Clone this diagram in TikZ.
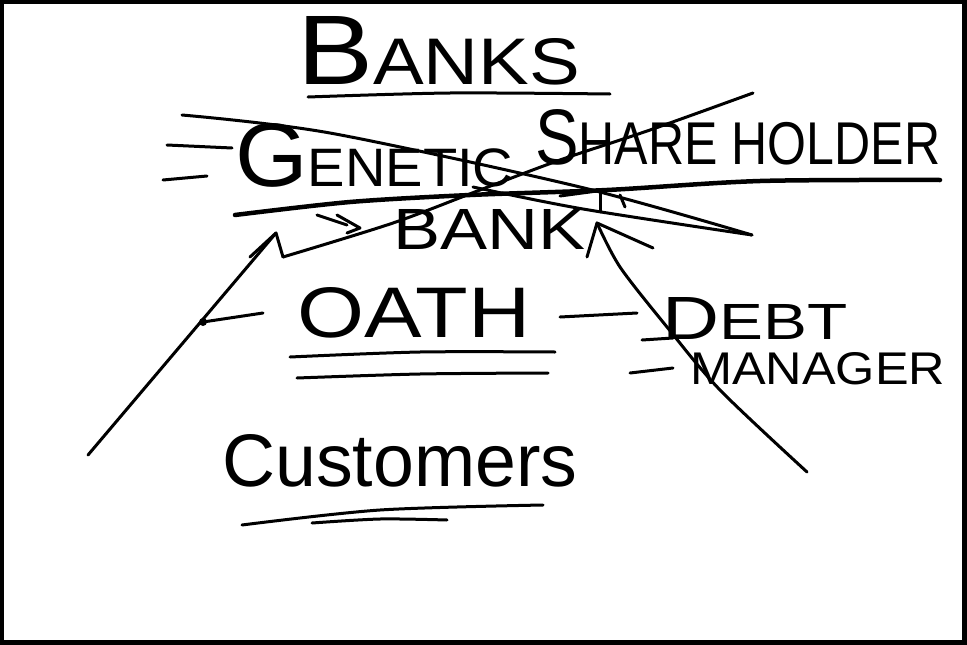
\documentclass[tikz,border=0pt]{standalone}
\usepackage{fontspec}
\usepackage{graphicx}
\setmainfont{Liberation Sans}
% a word stretched to a given width and height (in pt)
\newcommand\inkword[3]{\resizebox{#1pt}{#2pt}{#3}}
\begin{document}
\begin{tikzpicture}[x=1pt,y=-1pt,
  pen/.style={line width=3pt, line cap=round, line join=round},
  heavypen/.style={line width=4.5pt, line cap=round, line join=round},
  word/.style={inner sep=0pt, anchor=south west}]
% board with its dark frame
\fill[black] (0,0) rectangle (967,645);
\fill[white] (4,4) rectangle (962,640);
\useasboundingbox (0,0) rectangle (967,645);

% ---- words ----
\node[word] (banks) at (297,85)
  {\inkword{283}{68}{\fontsize{30}{30}\selectfont B\fontsize{20}{20}\selectfont ANKS}};
\node[word] (genetic) at (235,188)
  {\inkword{278}{63}{\fontsize{30}{30}\selectfont G\fontsize{18}{18}\selectfont ENETIC}};
\node[word] (holder) at (535,165)
  {\inkword{405}{55}{\fontsize{30}{30}\selectfont S\fontsize{23}{23}\selectfont HARE HOLDER}};
\node[word] (bank) at (393,250) {\inkword{192}{40}{BANK}};
\node[word] (oath) at (297,338) {\inkword{233}{50}{OATH}};
\node[word] (debt) at (662,340)
  {\inkword{185}{42}{\fontsize{30}{30}\selectfont D\fontsize{25}{25}\selectfont EBT}};
\node[word] (manager) at (690,385) {\inkword{255}{32}{MANAGER}};
\node[word] (customers) at (222,487) {\inkword{355}{52}{Customers}};

% ---- underlines ----
\draw[pen] plot[smooth] coordinates {(308,97) (450,93) (610,94)};
\draw[pen] plot[smooth] coordinates {(290,357) (420,352) (555,352)};
\draw[pen] plot[smooth] coordinates {(297,378) (420,374) (548,373)};
\draw[pen] plot[smooth] coordinates {(242,525) (380,510) (543,505)};
\draw[pen] plot[smooth] coordinates {(312,523) (380,519) (447,520)};
\draw[heavypen] plot[smooth] coordinates {(235,215) (350,202) (470,195) (607,190) (760,181) (940,180)};

% ---- bullet dashes ----
\draw[pen] (163,180) -- (207,176);
\draw[pen] (167,145) -- (232,148);
\draw[pen] (560,317) -- (637,313);
\draw[pen] (642,340) -- (673,338);
\draw[pen] (630,373) -- (673,368);

% ---- cross-out strokes ----
\draw[pen] plot[smooth] coordinates {(182,115) (330,133) (580,187) (752,235)};
\draw[pen] plot[smooth] coordinates {(473,187) (583,209) (752,235)};
\draw[pen] plot[smooth] coordinates {(283,257) (393,223) (480,190) (560,160) (650,130) (753,93)};
\draw[pen] (560,196) -- (597,191);
\draw[pen] (600,193) -- (600,212);
\draw[pen] (620,195) -- (625,207);

% ---- small chevron before BANK ----
\draw[pen] (317,215) -- (347,225);
\draw[pen] (337,215) -- (360,228) -- (347,233);

% ---- arrow from the lower left up to BANK ----
\coordinate (ltail) at (88,455);
\coordinate (ltip) at (276,233);
\draw[pen] (ltail) -- (ltip);
\draw[pen] (250,257) -- (ltip) -- (283,257);

% ---- arrow from OATH to the left stroke ----
\coordinate (oathtip) at (203,322);
\draw[pen] (263,313) -- (oathtip);
\fill (oathtip) circle (4);

% ---- arrow from the lower right up to BANK ----
\coordinate (rtail) at (807,472);
\coordinate (rtip) at (597,223);
\draw[pen] plot[smooth] coordinates {(rtail) (720,390) (667,327) (620,267) (rtip)};
\draw[pen] (587,257) -- (rtip) -- (653,248);
\end{tikzpicture}
\end{document}
